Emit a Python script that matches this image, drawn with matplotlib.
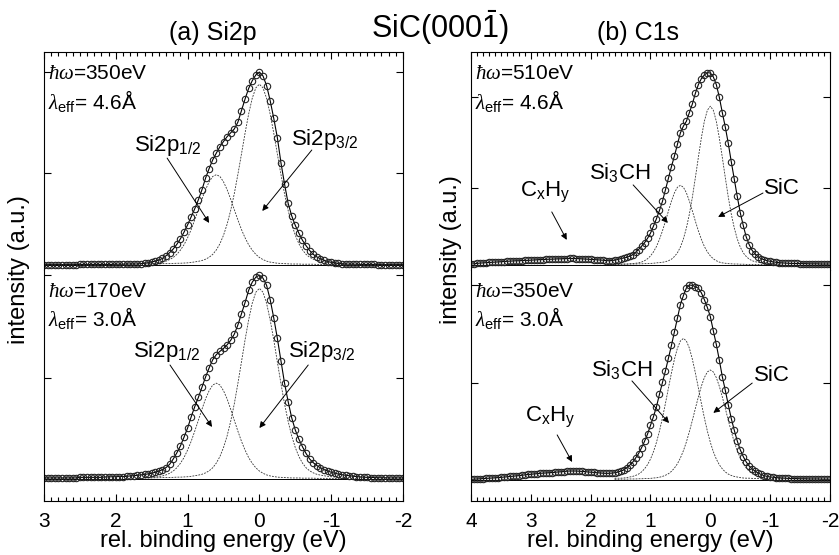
import numpy as np
import matplotlib
matplotlib.use("Agg")
import matplotlib.pyplot as plt
from matplotlib.ticker import MultipleLocator

plt.rcParams['font.family'] = ['Liberation Sans', 'DejaVu Sans']
plt.rcParams['mathtext.fontset'] = 'custom'
plt.rcParams['mathtext.rm'] = 'Liberation Sans'
plt.rcParams['mathtext.it'] = 'Liberation Serif:italic'
plt.rcParams['mathtext.bf'] = 'Liberation Sans:bold'
plt.rcParams['mathtext.sf'] = 'Liberation Sans'
plt.rcParams['axes.unicode_minus'] = False

# energy grids (rel. binding energy, eV)
e_si = np.linspace(3.0, -2.0, 101)
e_c = np.linspace(4.0, -2.0, 121)
e_fit = np.linspace(1.6, -1.2, 57)

# (a) Si2p, hw = 350 eV  (normalised intensity)
si_350 = [0.002] * 10 + [0.003] * 10 + [0.004, 0.004, 0.004, 0.005, 0.005, 0.005,
    0.005, 0.007, 0.009, 0.012, 0.016, 0.020, 0.026, 0.034, 0.048, 0.064,
    0.083, 0.107, 0.136, 0.170, 0.208, 0.250, 0.292, 0.338, 0.390, 0.450,
    0.500, 0.545, 0.580, 0.613, 0.640, 0.665, 0.685, 0.705, 0.740, 0.800,
    0.860, 0.915, 0.955, 0.985, 1.000,
    0.980, 0.930, 0.852, 0.760, 0.660, 0.530, 0.420, 0.320, 0.255, 0.205,
    0.165, 0.128, 0.100, 0.075, 0.055, 0.042, 0.032, 0.024, 0.018, 0.014,
    0.011, 0.008, 0.006, 0.005,
    0.004, 0.004, 0.004, 0.003, 0.003, 0.003, 0.003, 0.003,
    0.002, 0.002, 0.002, 0.002, 0.002, 0.002, 0.002, 0.002]
si32_350 = [0.005, 0.005, 0.005, 0.006, 0.006, 0.007, 0.007, 0.007, 0.008, 0.009,
    0.009, 0.010, 0.011, 0.013, 0.016, 0.019, 0.023, 0.030, 0.040, 0.055,
    0.078, 0.110, 0.154, 0.211, 0.283, 0.369, 0.469, 0.575, 0.683, 0.782,
    0.864, 0.918, 0.937, 0.918, 0.864, 0.782, 0.683, 0.575, 0.469, 0.369,
    0.283, 0.211, 0.154, 0.110, 0.078, 0.055, 0.040, 0.030, 0.023, 0.019,
    0.016, 0.013, 0.011, 0.010, 0.009, 0.009, 0.008]
si12_350 = [0.006, 0.007, 0.008, 0.009, 0.012, 0.015, 0.020, 0.028, 0.039, 0.055,
    0.077, 0.105, 0.141, 0.184, 0.234, 0.287, 0.341, 0.391, 0.431, 0.459,
    0.468, 0.459, 0.431, 0.391, 0.341, 0.287, 0.234, 0.184, 0.141, 0.105,
    0.077, 0.055, 0.039, 0.028, 0.020, 0.015, 0.012, 0.009, 0.008, 0.007,
    0.006, 0.005, 0.005, 0.005, 0.004, 0.004, 0.004, 0.004, 0.003, 0.003,
    0.003, 0.003, 0.003, 0.003, 0.002, 0.002, 0.002]

# (a) Si2p, hw = 170 eV
si_170 = [0.005] * 10 + [0.008] * 7 + [0.010, 0.010, 0.011, 0.011, 0.012, 0.012, 0.013,
    0.015, 0.016,
    0.018, 0.020, 0.022, 0.025, 0.028, 0.033, 0.038, 0.046, 0.056, 0.072,
    0.098, 0.128, 0.162, 0.205, 0.250, 0.305, 0.355, 0.400, 0.450, 0.500,
    0.545, 0.585, 0.610, 0.626, 0.640, 0.658, 0.680, 0.710, 0.755, 0.810,
    0.865, 0.925, 0.965, 0.990, 1.000,
    0.985, 0.950, 0.880, 0.790, 0.690, 0.580, 0.470, 0.380, 0.300, 0.240,
    0.195, 0.158, 0.125, 0.098, 0.080, 0.066, 0.055, 0.046, 0.039, 0.033,
    0.028, 0.024, 0.021, 0.018,
    0.016, 0.014, 0.012, 0.010, 0.009, 0.008, 0.007, 0.007,
    0.006, 0.006, 0.006, 0.005, 0.005, 0.005, 0.005, 0.005]
si32_170 = [0.005, 0.005, 0.005, 0.006, 0.006, 0.007, 0.007, 0.007, 0.008, 0.009,
    0.009, 0.010, 0.011, 0.013, 0.016, 0.019, 0.023, 0.030, 0.040, 0.055,
    0.078, 0.110, 0.154, 0.211, 0.283, 0.368, 0.468, 0.574, 0.682, 0.780,
    0.862, 0.916, 0.935, 0.916, 0.862, 0.780, 0.682, 0.574, 0.468, 0.368,
    0.283, 0.211, 0.154, 0.110, 0.078, 0.055, 0.040, 0.030, 0.023, 0.019,
    0.016, 0.013, 0.011, 0.010, 0.009, 0.009, 0.008]
si12_170 = [0.006, 0.007, 0.008, 0.009, 0.012, 0.015, 0.020, 0.028, 0.039, 0.055,
    0.077, 0.105, 0.142, 0.185, 0.235, 0.288, 0.342, 0.393, 0.433, 0.461,
    0.470, 0.461, 0.433, 0.393, 0.342, 0.288, 0.235, 0.185, 0.142, 0.105,
    0.077, 0.055, 0.039, 0.028, 0.020, 0.015, 0.012, 0.009, 0.008, 0.007,
    0.006, 0.005, 0.005, 0.005, 0.004, 0.004, 0.004, 0.004, 0.003, 0.003,
    0.003, 0.003, 0.003, 0.003, 0.002, 0.002, 0.002]

# (b) C1s, hw = 510 eV
c_510 = [0.005, 0.006, 0.008, 0.010, 0.011, 0.012, 0.013, 0.014, 0.015, 0.016,
    0.017, 0.018, 0.019, 0.020, 0.021, 0.022, 0.022, 0.023, 0.024, 0.024,
    0.025, 0.026, 0.027, 0.028, 0.028, 0.029, 0.030, 0.030, 0.031, 0.032,
    0.032, 0.033, 0.033, 0.034, 0.034, 0.033, 0.033, 0.032, 0.031, 0.030,
    0.029, 0.028, 0.027, 0.026, 0.025, 0.023, 0.022, 0.023, 0.025, 0.028,
    0.033, 0.036, 0.039, 0.045, 0.053, 0.065, 0.080, 0.097, 0.115, 0.138,
    0.165, 0.202, 0.240, 0.283, 0.330, 0.390, 0.450, 0.510, 0.565, 0.625,
    0.685, 0.720, 0.745, 0.790, 0.835, 0.890, 0.935, 0.966, 0.985, 0.997,
    0.995,
    0.975, 0.935, 0.870, 0.790, 0.715, 0.630, 0.535, 0.445, 0.355,
    0.271, 0.205, 0.145, 0.105, 0.075, 0.056, 0.042, 0.033, 0.027, 0.022,
    0.019, 0.016, 0.014, 0.012, 0.011, 0.010, 0.009,
    0.008, 0.008, 0.008, 0.007, 0.007, 0.007, 0.006, 0.006, 0.006, 0.006,
    0.005, 0.005, 0.005, 0.005]
sic_510 = [0.003, 0.003, 0.004, 0.004, 0.004, 0.005, 0.005, 0.005, 0.006, 0.006,
    0.007, 0.007, 0.008, 0.009, 0.011, 0.012, 0.014, 0.017, 0.022, 0.030,
    0.044, 0.063, 0.093, 0.135, 0.192, 0.264, 0.352, 0.453, 0.558, 0.659,
    0.745, 0.802, 0.823, 0.802, 0.745, 0.659, 0.558, 0.453, 0.352, 0.264,
    0.192, 0.135, 0.093, 0.063, 0.044, 0.030, 0.022, 0.017, 0.014, 0.012,
    0.011, 0.009, 0.008, 0.007, 0.007, 0.006, 0.006]
si3ch_510 = [0.003, 0.003, 0.004, 0.005, 0.005, 0.006, 0.007, 0.009, 0.011, 0.015,
    0.022, 0.032, 0.047, 0.068, 0.096, 0.133, 0.177, 0.227, 0.280, 0.331,
    0.374, 0.403, 0.413, 0.403, 0.374, 0.331, 0.280, 0.227, 0.177, 0.133,
    0.096, 0.068, 0.047, 0.032, 0.022, 0.015, 0.011, 0.009, 0.007, 0.006,
    0.005, 0.005, 0.004, 0.004, 0.003, 0.003, 0.003, 0.003, 0.002, 0.002,
    0.002, 0.002, 0.002, 0.002, 0.002, 0.001, 0.001]

# (b) C1s, hw = 350 eV
c_350 = [0.003, 0.004, 0.005, 0.006, 0.007, 0.008, 0.009, 0.010, 0.011, 0.012,
    0.013, 0.015, 0.016, 0.018, 0.019, 0.021, 0.022, 0.024, 0.026, 0.028,
    0.029, 0.031, 0.032, 0.034, 0.035, 0.036, 0.037, 0.038, 0.039, 0.041,
    0.042, 0.043, 0.045, 0.046, 0.046, 0.046, 0.045, 0.044, 0.043, 0.041,
    0.040, 0.039, 0.037, 0.036, 0.035, 0.034, 0.034, 0.035, 0.037, 0.040,
    0.045, 0.051, 0.062, 0.075, 0.090, 0.112, 0.135, 0.165, 0.198, 0.235,
    0.280, 0.325, 0.376, 0.440, 0.500, 0.560, 0.625, 0.690, 0.760, 0.830,
    0.900, 0.946, 0.985, 1.000, 0.998, 0.992, 0.983, 0.960, 0.925, 0.885,
    0.838,
    0.765, 0.695, 0.615, 0.530, 0.460, 0.385, 0.315, 0.255, 0.200,
    0.155, 0.120, 0.092, 0.071, 0.056, 0.045, 0.035, 0.028, 0.022, 0.018,
    0.015, 0.014, 0.012, 0.011, 0.010, 0.009, 0.008,
    0.007, 0.007, 0.007, 0.006, 0.006, 0.006, 0.005, 0.005, 0.005, 0.005,
    0.004, 0.004, 0.004, 0.004]
sic_350 = [0.003, 0.003, 0.004, 0.004, 0.004, 0.005, 0.005, 0.005, 0.006, 0.006,
    0.007, 0.007, 0.008, 0.010, 0.011, 0.014, 0.018, 0.024, 0.032, 0.044,
    0.061, 0.083, 0.113, 0.150, 0.195, 0.248, 0.306, 0.367, 0.426, 0.481,
    0.525, 0.554, 0.564, 0.554, 0.525, 0.481, 0.426, 0.367, 0.306, 0.248,
    0.195, 0.150, 0.113, 0.083, 0.061, 0.044, 0.032, 0.024, 0.018, 0.014,
    0.011, 0.010, 0.008, 0.007, 0.007, 0.006, 0.006]
si3ch_350 = [0.008, 0.009, 0.009, 0.010, 0.012, 0.015, 0.018, 0.023, 0.030, 0.041,
    0.057, 0.078, 0.107, 0.145, 0.193, 0.251, 0.319, 0.393, 0.472, 0.549,
    0.619, 0.676, 0.713, 0.726, 0.713, 0.676, 0.619, 0.549, 0.472, 0.393,
    0.319, 0.251, 0.193, 0.145, 0.107, 0.078, 0.057, 0.041, 0.030, 0.023,
    0.018, 0.015, 0.012, 0.010, 0.009, 0.009, 0.008, 0.007, 0.007, 0.006,
    0.006, 0.006, 0.005, 0.005, 0.005, 0.004, 0.004]

fig = plt.figure(figsize=(8.39, 5.55), dpi=100)

W, H = 839.0, 555.0
col_x = [44 / W, 471 / W]
col_w = 359 / W
top_box = (1 - 270 / H, 218 / H)
bot_box = (1 - 501 / H, 231 / H)


def style(ax, xlim, ylim, yticks, upper):
    ax.set_xlim(*xlim)
    ax.set_ylim(*ylim)
    ax.xaxis.set_major_locator(MultipleLocator(1))
    ax.xaxis.set_minor_locator(MultipleLocator(0.1))
    ax.set_yticks(yticks)
    ax.set_yticklabels([])
    ax.tick_params(which='both', direction='in', left=True, right=True,
                   top=upper, bottom=not upper, labelbottom=not upper,
                   width=0.8, labelsize=15, pad=8)
    ax.tick_params(which='major', length=5)
    ax.tick_params(which='minor', length=3)
    if upper:
        ax.spines['bottom'].set_visible(False)
    else:
        ax.spines['top'].set_visible(False)
    for s in ax.spines.values():
        s.set_linewidth(0.8)


def spectrum(ax, e, data, fits, e_lo, e_hi):
    ax.plot([e_lo, e_hi], [0, 0], '-', color='k', lw=0.7)
    for f in fits:
        ax.plot(e_fit, f, color='#333333', lw=0.6, dashes=(2.2, 1.4))
    ax.plot(e, data, '-o', color='k', lw=0.8, ms=4.6, mfc='none', mec='#222222', mew=0.8)


def arrow(ax, start, tip):
    ax.annotate('', xy=tip, xytext=start,
                arrowprops=dict(arrowstyle='-|>', color='k', lw=0.7,
                                mutation_scale=9, shrinkA=0, shrinkB=0))


lab = dict(fontsize=16, ha='center', va='center')
info = dict(fontsize=15, va='baseline')

# ---- (a) Si2p ----
ax1 = fig.add_axes([col_x[0], top_box[0], col_w, top_box[1]])
style(ax1, (3, -2), (-0.026, 1.104), [0.477, 1.0], True)
spectrum(ax1, e_si, si_350, [si32_350, si12_350], 3, -2)
ax1.text(0.011, 0.874, r'$\hbar\omega$=350eV', transform=ax1.transAxes, **info)
ax1.text(0.011, 0.740, r'$\lambda_{\rm eff}$= 4.6Å', transform=ax1.transAxes, **info)
ax1.text(1.27, 0.62, r'Si2p$_{1/2}$', **lab)
ax1.text(-0.91, 0.653, r'Si2p$_{3/2}$', **lab)
arrow(ax1, (1.285, 0.554), (0.70, 0.218))
arrow(ax1, (-0.73, 0.596), (-0.04, 0.28))

ax2 = fig.add_axes([col_x[0], bot_box[0], col_w, bot_box[1]])
style(ax2, (3, -2), (-0.108, 1.025), [0.495, 1.0], False)
spectrum(ax2, e_si, si_170, [si32_170, si12_170], 3, -2)
ax2.text(0.011, 0.885, r'$\hbar\omega$=170eV', transform=ax2.transAxes, **info)
ax2.text(0.011, 0.758, r'$\lambda_{\rm eff}$= 3.0Å', transform=ax2.transAxes, **info)
ax2.text(1.29, 0.623, r'Si2p$_{1/2}$', **lab)
ax2.text(-0.87, 0.623, r'Si2p$_{3/2}$', **lab)
arrow(ax2, (1.245, 0.559), (0.66, 0.255))
arrow(ax2, (-0.68, 0.559), (0.0, 0.25))

# ---- (b) C1s ----
ax3 = fig.add_axes([col_x[1], top_box[0], col_w, top_box[1]])
style(ax3, (4, -2), (-0.026, 1.104), [0.40, 0.87], True)
spectrum(ax3, e_c, c_510, [sic_510, si3ch_510], 4, -2)
ax3.text(0.011, 0.874, r'$\hbar\omega$=510eV', transform=ax3.transAxes, **info)
ax3.text(0.011, 0.740, r'$\lambda_{\rm eff}$= 4.6Å', transform=ax3.transAxes, **info)
ax3.text(2.76, 0.378, r'C$_{\rm x}$H$_{\rm y}$', **lab)
ax3.text(1.51, 0.48, r'Si$_3$CH', **lab)
ax3.text(-1.20, 0.394, 'SiC', **lab)
arrow(ax3, (2.65, 0.275), (2.40, 0.13))
arrow(ax3, (1.29, 0.415), (0.71, 0.218))
arrow(ax3, (-0.88, 0.373), (-0.13, 0.249))

ax4 = fig.add_axes([col_x[1], bot_box[0], col_w, bot_box[1]])
style(ax4, (4, -2), (-0.108, 1.077), [0.497, 1.0], False)
spectrum(ax4, e_c, c_350, [sic_350, si3ch_350], 4, -2)
ax4.text(0.011, 0.885, r'$\hbar\omega$=350eV', transform=ax4.transAxes, **info)
ax4.text(0.011, 0.758, r'$\lambda_{\rm eff}$= 3.0Å', transform=ax4.transAxes, **info)
ax4.text(2.68, 0.323, r'C$_{\rm x}$H$_{\rm y}$', **lab)
ax4.text(1.48, 0.569, r'Si$_3$CH', **lab)
ax4.text(-1.03, 0.538, 'SiC', **lab)
arrow(ax4, (2.56, 0.231), (2.31, 0.092))
arrow(ax4, (1.31, 0.508), (0.69, 0.292))
arrow(ax4, (-0.70, 0.497), (-0.05, 0.344))

# titles and axis labels
fig.text(213 / W, 1 - 40 / H, '(a) Si2p', fontsize=18, ha='center', va='baseline')
fig.text(638 / W, 1 - 40 / H, '(b) C1s', fontsize=18, ha='center', va='baseline')
fig.text(440 / W, 1 - 38 / H, r'SiC(000$\bar{1}$)', fontsize=22, ha='center', va='baseline')
fig.text(223 / W, 1 - 547 / H, 'rel. binding energy (eV)', fontsize=17, ha='center', va='baseline')
fig.text(650 / W, 1 - 547 / H, 'rel. binding energy (eV)', fontsize=17, ha='center', va='baseline')
fig.text(19 / W, 1 - 270 / H, 'intensity (a.u.)', fontsize=17, rotation=90, ha='center', va='center')
fig.text(451 / W, 1 - 250 / H, 'intensity (a.u.)', fontsize=17, rotation=90, ha='center', va='center')

fig.savefig('out.png', dpi=100)
